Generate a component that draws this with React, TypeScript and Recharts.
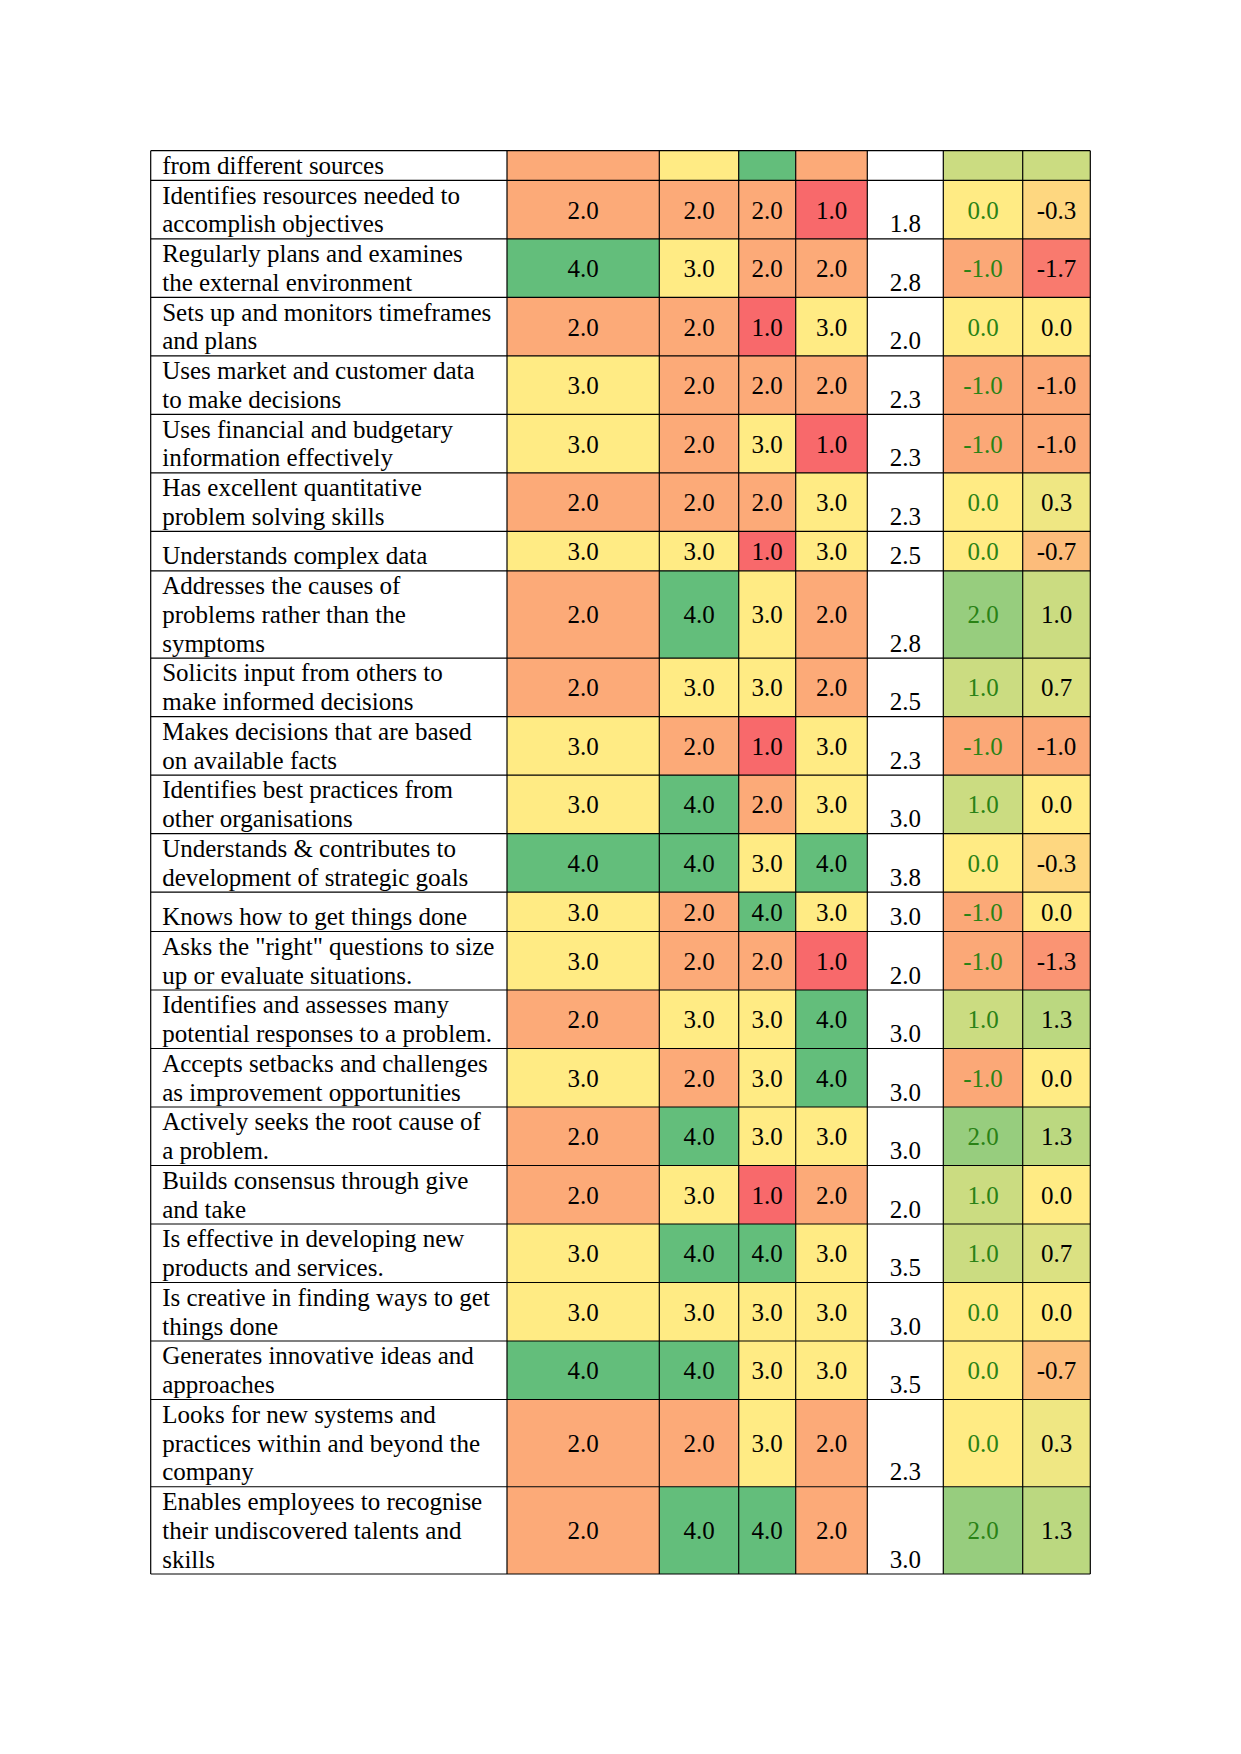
import React from 'react';
import { ScatterChart, Scatter, XAxis, YAxis, ReferenceArea, ReferenceLine } from 'recharts';

// ---------- data ----------
const competencies: string[] = [
  'from different sources',
  'Identifies resources needed to\naccomplish objectives',
  'Regularly plans and examines\nthe external environment',
  'Sets up and monitors timeframes\nand plans',
  'Uses market and customer data\nto make decisions',
  'Uses financial and budgetary\ninformation effectively',
  'Has excellent quantitative\nproblem solving skills',
  'Understands complex data',
  'Addresses the causes of\nproblems rather than the\nsymptoms',
  'Solicits input from others to\nmake informed decisions',
  'Makes decisions that are based\non available facts',
  'Identifies best practices from\nother organisations',
  'Understands & contributes to\ndevelopment of strategic goals',
  'Knows how to get things done',
  'Asks the "right" questions to size\nup or evaluate situations.',
  'Identifies and assesses many\npotential responses to a problem.',
  'Accepts setbacks and challenges\nas improvement opportunities',
  'Actively seeks the root cause of\na problem.',
  'Builds consensus through give\nand take',
  'Is effective in developing new\nproducts and services.',
  'Is creative in finding ways to get\nthings done',
  'Generates innovative ideas and\napproaches',
  'Looks for new systems and\npractices within and beyond the\ncompany',
  'Enables employees to recognise\ntheir undiscovered talents and\nskills',
];
const ratingA: number[] = [2, 2, 4, 2, 3, 3, 2, 3, 2, 2, 3, 3, 4, 3, 3, 2, 3, 2, 2, 3, 3, 4, 2, 2];
const ratingB: number[] = [3, 2, 3, 2, 2, 2, 2, 3, 4, 3, 2, 4, 4, 2, 2, 3, 2, 4, 3, 4, 3, 4, 2, 4];
const ratingC: number[] = [4, 2, 2, 1, 2, 3, 2, 1, 3, 3, 1, 2, 3, 4, 2, 3, 3, 3, 1, 4, 3, 3, 3, 4];
const ratingD: number[] = [2, 1, 2, 3, 2, 1, 3, 3, 2, 2, 3, 3, 4, 3, 1, 4, 4, 3, 2, 3, 3, 3, 2, 2];
const averages: (number | null)[] = [null, 1.8, 2.8, 2.0, 2.3, 2.3, 2.3, 2.5, 2.8, 2.5, 2.3, 3.0, 3.8, 3.0, 2.0, 3.0, 3.0, 3.0, 2.0, 3.5, 3.0, 3.5, 2.3, 3.0];
const gapA: number[] = [1.0, 0.0, -1.0, 0.0, -1.0, -1.0, 0.0, 0.0, 2.0, 1.0, -1.0, 1.0, 0.0, -1.0, -1.0, 1.0, -1.0, 2.0, 1.0, 1.0, 0.0, 0.0, 0.0, 2.0];
const gapB: number[] = [1.0, -0.3, -1.7, 0.0, -1.0, -1.0, 0.3, -0.7, 1.0, 0.7, -1.0, 0.0, -0.3, 0.0, -1.3, 1.3, 0.0, 1.3, 0.0, 0.7, 0.0, -0.7, 0.3, 1.3];
// the first row continues from the previous page: its numbers are printed there
const continuedRows: number[] = [0];

// ---------- layout & style ----------
const PAGE_W = 1241;
const PAGE_H = 1754;
const TABLE_LEFT = 150.7;
const TABLE_TOP = 150.7;
const COL_WIDTHS = [356.3, 152.3, 79.4, 57, 71.6, 76, 79.4, 67.6];
const LINE_H = 28.75;
const MIN_ROW_H = 39.4;
const FONT = '"Liberation Serif", "Times New Roman", serif';
const FONT_SIZE = 25;
const GREEN_TEXT = '#2A8215';

const RED = [248, 105, 107];
const YELLOW = [255, 235, 132];
const GREEN = [99, 190, 123];
const mix = (a: number[], b: number[], t: number) => {
  const c = a.map((v, i) => Math.round(v + (b[i] - v) * Math.max(0, Math.min(1, t))));
  return `rgb(${c[0]},${c[1]},${c[2]})`;
};
const ratingColor = (v: number) => (v <= 3 ? mix(RED, YELLOW, (v - 1) / 2) : mix(YELLOW, GREEN, v - 3));
const gapColor = (v: number) => (v <= 0 ? mix(YELLOW, RED, -v / 1.95) : mix(YELLOW, GREEN, v / 3));

// ---------- derived geometry (in axis units) ----------
const colEdges: number[] = [0];
COL_WIDTHS.forEach((w) => colEdges.push(colEdges[colEdges.length - 1] + w));
const TABLE_W = colEdges[colEdges.length - 1];

const lineCounts = competencies.map((s) => s.split('\n').length);
const rowHeights = lineCounts.map((n, i) =>
  continuedRows.includes(i) ? n * LINE_H + 1 : Math.max(MIN_ROW_H, n * LINE_H + 1)
);
const rowEdges: number[] = [0];
rowHeights.forEach((h) => rowEdges.push(rowEdges[rowEdges.length - 1] + h));
const TABLE_H = rowEdges[rowEdges.length - 1];

const colCenter = (c: number) => (colEdges[c] + colEdges[c + 1]) / 2;
const rowCenter = (r: number) => (rowEdges[r] + rowEdges[r + 1]) / 2;

type Cell = { c: number; r: number; fill: string };
const cells: Cell[] = [];
const valuePoints: { x: number; y: number; text: string; color: string }[] = [];
const avgPoints: { x: number; y: number; text: string }[] = [];
const labelPoints: { x: number; y: number; lines: string[] }[] = [];

competencies.forEach((label, r) => {
  const hidden = continuedRows.includes(r);
  const ratings = [ratingA[r], ratingB[r], ratingC[r], ratingD[r]];
  cells.push({ c: 0, r, fill: '#ffffff' });
  ratings.forEach((v, k) => {
    cells.push({ c: k + 1, r, fill: ratingColor(v) });
    if (!hidden) valuePoints.push({ x: colCenter(k + 1), y: rowCenter(r), text: v.toFixed(1), color: '#000' });
  });
  cells.push({ c: 5, r, fill: '#ffffff' });
  const avg = averages[r];
  if (!hidden && avg !== null) avgPoints.push({ x: colCenter(5), y: rowEdges[r + 1], text: avg.toFixed(1) });
  cells.push({ c: 6, r, fill: gapColor(gapA[r]) });
  cells.push({ c: 7, r, fill: gapColor(gapB[r]) });
  if (!hidden) {
    valuePoints.push({ x: colCenter(6), y: rowCenter(r), text: gapA[r].toFixed(1), color: GREEN_TEXT });
    valuePoints.push({ x: colCenter(7), y: rowCenter(r), text: gapB[r].toFixed(1), color: '#000' });
  }
  labelPoints.push({ x: 0, y: rowEdges[r + 1], lines: label.split('\n') });
});

const LabelShape = (p: any) => {
  const lines: string[] = p.payload.lines;
  const n = lines.length;
  return (
    <text fontFamily={FONT} fontSize={FONT_SIZE} fill="#000">
      {lines.map((ln, i) => (
        <tspan key={i} x={p.cx + 11.5} y={p.cy - 6.5 - (n - 1 - i) * LINE_H}>
          {ln}
        </tspan>
      ))}
    </text>
  );
};
const ValueShape = (p: any) => (
  <text x={p.cx} y={p.cy + 9} textAnchor="middle" fontFamily={FONT} fontSize={FONT_SIZE} fill={p.payload.color}>
    {p.payload.text}
  </text>
);
const AvgShape = (p: any) => (
  <text x={p.cx} y={p.cy - 6.5} textAnchor="middle" fontFamily={FONT} fontSize={FONT_SIZE} fill="#000">
    {p.payload.text}
  </text>
);

export default function App() {
  return (
    <div style={{ position: 'absolute', left: 0, top: 0, width: PAGE_W, height: PAGE_H, background: '#fff' }}>
      <ScatterChart
        width={PAGE_W}
        height={PAGE_H}
        margin={{
          left: TABLE_LEFT,
          top: TABLE_TOP,
          right: PAGE_W - TABLE_LEFT - TABLE_W,
          bottom: PAGE_H - TABLE_TOP - TABLE_H,
        }}
      >
        <XAxis type="number" dataKey="x" domain={[0, TABLE_W]} allowDataOverflow hide />
        <YAxis type="number" dataKey="y" domain={[0, TABLE_H]} allowDataOverflow reversed hide />
        {cells.map((cell, i) => (
          <ReferenceArea
            key={`cell-${i}`}
            x1={colEdges[cell.c]}
            x2={colEdges[cell.c + 1]}
            y1={rowEdges[cell.r]}
            y2={rowEdges[cell.r + 1]}
            fill={cell.fill}
            fillOpacity={1}
            stroke="none"
            ifOverflow="visible"
          />
        ))}
        {rowEdges.map((y, i) => (
          <ReferenceLine key={`h-${i}`} y={y} stroke="#000" strokeWidth={1.2} ifOverflow="visible" />
        ))}
        {colEdges.map((x, i) => (
          <ReferenceLine key={`v-${i}`} x={x} stroke="#000" strokeWidth={1.2} ifOverflow="visible" />
        ))}
        <Scatter data={labelPoints} shape={(p: any) => <LabelShape {...p} />} isAnimationActive={false} />
        <Scatter data={valuePoints} shape={(p: any) => <ValueShape {...p} />} isAnimationActive={false} />
        <Scatter data={avgPoints} shape={(p: any) => <AvgShape {...p} />} isAnimationActive={false} />
      </ScatterChart>
    </div>
  );
}
